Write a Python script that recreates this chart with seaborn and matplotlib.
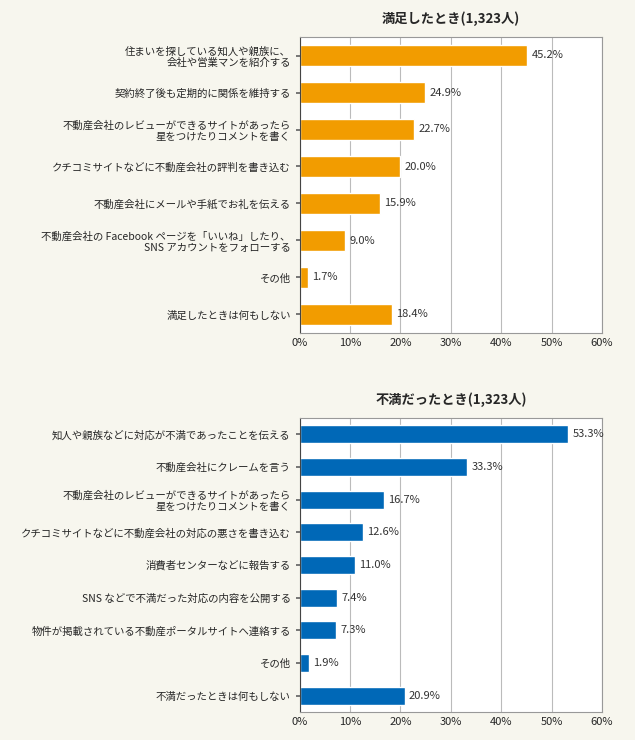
import matplotlib
matplotlib.use("Agg")
import matplotlib.pyplot as plt
import seaborn as sns
import pandas as pd

sns.set_theme(style="white")
plt.rcParams['font.family'] = ['Noto Sans CJK JP', 'DejaVu Sans']

title1 = "満足したとき(1,323人)"
cats1 = ["住まいを探している知人や親族に、\n会社や営業マンを紹介する",
         "契約終了後も定期的に関係を維持する",
         "不動産会社のレビューができるサイトがあったら\n星をつけたりコメントを書く",
         "クチコミサイトなどに不動産会社の評判を書き込む",
         "不動産会社にメールや手紙でお礼を伝える",
         "不動産会社の Facebook ページを「いいね」したり、\nSNS アカウントをフォローする",
         "その他",
         "満足したときは何もしない"]
vals1 = [45.2, 24.9, 22.7, 20.0, 15.9, 9.0, 1.7, 18.4]

title2 = "不満だったとき(1,323人)"
cats2 = ["知人や親族などに対応が不満であったことを伝える",
         "不動産会社にクレームを言う",
         "不動産会社のレビューができるサイトがあったら\n星をつけたりコメントを書く",
         "クチコミサイトなどに不動産会社の対応の悪さを書き込む",
         "消費者センターなどに報告する",
         "SNS などで不満だった対応の内容を公開する",
         "物件が掲載されている不動産ポータルサイトへ連絡する",
         "その他",
         "不満だったときは何もしない"]
vals2 = [53.3, 33.3, 16.7, 12.6, 11.0, 7.4, 7.3, 1.9, 20.9]
xticks = [0, 10, 20, 30, 40, 50, 60]

bg = "#f7f6ee"
fig = plt.figure(figsize=(6.35, 7.40), dpi=100, facecolor=bg)
ax1 = fig.add_axes([0.472, 0.55, 0.476, 0.40])
ax2 = fig.add_axes([0.472, 0.038, 0.476, 0.397])

for ax, cats, vals, col, title in [(ax1, cats1, vals1, "#f29c00", title1),
                                    (ax2, cats2, vals2, "#0068b7", title2)]:
    df = pd.DataFrame({"c": cats, "v": vals})
    sns.barplot(data=df, x="v", y="c", color=col, width=0.55, ax=ax, saturation=1)
    ax.set_facecolor("white")
    ax.set_xlim(0, 60)
    ax.set_xticks(xticks)
    ax.set_xticklabels([f"{t}%" for t in xticks], fontsize=8)
    ax.tick_params(axis='y', labelsize=7.5, length=3, left=True, color="#666")
    ax.tick_params(axis='x', length=0)
    ax.set_xlabel(""); ax.set_ylabel("")
    for lab in ax.get_yticklabels():
        lab.set_horizontalalignment('right')
        lab.set_multialignment('right')
    ax.grid(axis='x', color="#bbbbbb", lw=0.8)
    ax.set_axisbelow(True)
    for s in ax.spines.values():
        s.set_color("#999"); s.set_linewidth(0.8)
    ax.spines['left'].set_color("#444")
    for i, v in enumerate(vals):
        ax.text(v + 0.8, i, f"{v:.1f}%", va='center', ha='left', fontsize=8, color="#333")
    ax.set_title(title, fontsize=9.5, fontweight='bold', pad=10)

fig.savefig("out.png", dpi=100, facecolor=bg)
